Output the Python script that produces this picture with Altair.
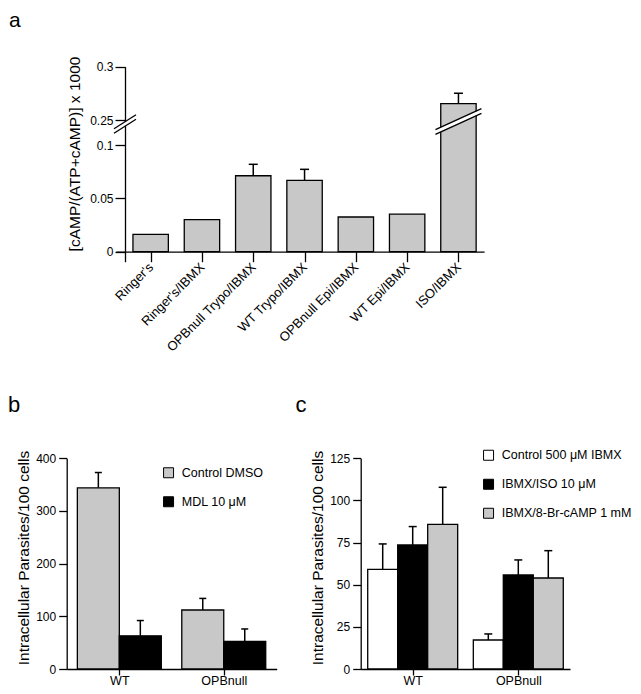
import json
import altair as alt
import pandas as pd

# ---------------- data ----------------
a_labels = ["Ringer's", "Ringer's/IBMX", "OPBnull Trypo/IBMX", "WT Trypo/IBMX",
            "OPBnull Epi/IBMX", "WT Epi/IBMX", "ISO/IBMX"]
a_values = [0.0163, 0.0300, 0.0712, 0.0669, 0.0325, 0.0353, 0.2653]
a_errors = [None, None, 0.0107, 0.0103, None, None, 0.0098]
a_ytick_values = [0, 0.05, 0.1, 0.25, 0.3]
a_ytick_labels = ["0", "0.05", "0.1", "0.25", "0.3"]

b_groups = ["WT", "OPBnull"]
b_series = ["Control DMSO", "MDL 10 μM"]
b_control = [344, 112]
b_control_err = [29, 22]
b_mdl = [63, 52.5]
b_mdl_err = [29, 23.5]
b_yticks = [0, 100, 200, 300, 400]

c_groups = ["WT", "OPBnull"]
c_series = ["Control 500 μM IBMX", "IBMX/ISO 10 μM", "IBMX/8-Br-cAMP 1 mM"]
c_control = [59.1, 17.2]
c_control_err = [15.1, 3.6]
c_iso = [73.6, 55.8]
c_iso_err = [10.9, 8.9]
c_br = [85.8, 54.0]
c_br_err = [22.0, 16.2]
c_yticks = [0, 25, 50, 75, 100, 125]

panel_letters = ["a", "b", "c"]

# ---------------- style / layout ----------------
FONT = "Liberation Sans"
GRAY = "#c8c8c8"
W, H = 625, 678

BRK_LO, BRK_HI, GAP = 0.1, 0.25, 0.0234


def disp(v):
    return round(v if v <= BRK_LO else v - BRK_HI + BRK_LO + GAP, 6)


common_axis = dict(domainColor="black", tickColor="black", labelColor="black",
                   titleColor="black", domainWidth=1.3, tickWidth=1.3,
                   labelFont=FONT, titleFont=FONT, grid=False, labelOverlap=False,
                   labelFlush=False, titleFontWeight="normal")

# ---------- panel a ----------
A_AX_X, A_UNIT, A_X_LEFT, A_HALF = 117.0, 51.3, -0.18, 0.345
A_ZERO_Y, A_PPU, A_Y_LOW = 243.7, 1067.0, -0.0094
A_Y_TOP = disp(0.3)
a_xscale = alt.Scale(domain=[A_X_LEFT, 7], nice=False, zero=False,
                     range=[A_AX_X + A_X_LEFT * A_UNIT, A_AX_X + 7 * A_UNIT])
a_yscale = alt.Scale(domain=[A_Y_LOW, A_Y_TOP], nice=False, zero=False,
                     range=[A_ZERO_Y - A_Y_LOW * A_PPU, A_ZERO_Y - A_Y_TOP * A_PPU])
a_disp_ticks = [disp(v) for v in a_ytick_values]
a_xaxis = alt.Axis(orient="bottom", offset=A_ZERO_Y - H,
                   values=[i + 0.5 for i in range(len(a_labels))],
                   labelExpr=f"{json.dumps(a_labels, ensure_ascii=False)}[floor(datum.value)]",
                   tickSize=10, labelAngle=315, labelAlign="right", labelBaseline="middle",
                   labelPadding=3, labelFontSize=13, title=None, **common_axis)
a_yaxis = alt.Axis(orient="left", offset=-A_AX_X, values=a_disp_ticks,
                   labelExpr=f"{json.dumps(a_ytick_labels)}[indexof({json.dumps(a_disp_ticks)}, datum.value)]",
                   tickSize=10, labelPadding=2, labelFontSize=12,
                   title="[cAMP/(ATP+cAMP)] x 1000", titleAngle=270, titleX=-46, titleY=145.5,
                   titleAlign="center", titleBaseline="alphabetic", titleFontSize=15.5,
                   **common_axis)

a_df = pd.DataFrame({"label": a_labels, "value": a_values, "err": a_errors,
                     "idx": list(range(len(a_labels)))})
disp_expr = "(v <= {lo} ? v : v - {hi} + {lo} + {gap})"
a_base = alt.Chart(a_df).transform_calculate(
    xc="datum.idx + 0.5",
    x0=f"datum.idx + 0.5 - {A_HALF}",
    x1=f"datum.idx + 0.5 + {A_HALF}",
    yd=disp_expr.format(lo=BRK_LO, hi=BRK_HI, gap=GAP).replace("v", "datum.value"),
    ed=disp_expr.format(lo=BRK_LO, hi=BRK_HI, gap=GAP).replace("v", "(datum.value + datum.err)"),
    c0=f"datum.idx + 0.5 - {4.5 / A_UNIT}",
    c1=f"datum.idx + 0.5 + {4.5 / A_UNIT}",
)
a_bars = a_base.mark_bar(fill=GRAY, stroke="black", strokeWidth=1.3).encode(
    x=alt.X("x0:Q", scale=a_xscale, axis=a_xaxis),
    x2="x1:Q",
    y=alt.Y("yd:Q", scale=a_yscale, axis=a_yaxis),
    y2=alt.datum(0),
)
a_err = a_base.transform_filter("isValid(datum.err)").mark_rule(
    color="black", strokeWidth=1.5).encode(
    x=alt.X("xc:Q", scale=a_xscale, axis=a_xaxis),
    y=alt.Y("yd:Q", scale=a_yscale, axis=a_yaxis),
    y2="ed:Q",
)
a_cap = a_base.transform_filter("isValid(datum.err)").mark_rule(
    color="black", strokeWidth=1.5).encode(
    x=alt.X("c0:Q", scale=a_xscale, axis=a_xaxis),
    x2="c1:Q",
    y=alt.Y("ed:Q", scale=a_yscale, axis=a_yaxis),
)

# break marks (style geometry, in panel-a data units)
def slash_rows(cx, cy, dx_px, dy_px, sep_px):
    dx, dy, sep = dx_px / A_UNIT, dy_px / A_PPU, sep_px / A_PPU
    rows = [dict(x=cx - dx, x2=cx + dx, y=cy - dy, y2=cy + dy, kind="white")]
    for s in (-sep, sep):
        rows.append(dict(x=cx - dx, x2=cx + dx, y=cy - dy + s, y2=cy + dy + s, kind="black"))
    return rows

brk_rows = slash_rows(0.0, (A_ZERO_Y - 116.0) / A_PPU, 11, 7, 2.3) + \
    slash_rows(6.5, (A_ZERO_Y - 113.5) / A_PPU, 23, 10.5, 2.3)
brk_df = pd.DataFrame(brk_rows)
brk_white = alt.Chart(brk_df).transform_filter("datum.kind == 'white'").mark_rule(
    color="white", strokeWidth=4).encode(
    x=alt.X("x:Q", scale=a_xscale, axis=a_xaxis), x2="x2:Q",
    y=alt.Y("y:Q", scale=a_yscale, axis=a_yaxis), y2="y2:Q")
brk_black = alt.Chart(brk_df).transform_filter("datum.kind == 'black'").mark_rule(
    color="black", strokeWidth=1.3).encode(
    x=alt.X("x:Q", scale=a_xscale, axis=a_xaxis), x2="x2:Q",
    y=alt.Y("y:Q", scale=a_yscale, axis=a_yaxis), y2="y2:Q")

panel_a = alt.layer(a_bars, a_err, a_cap, brk_white, brk_black)


# ---------- grouped panels b and c ----------
def grouped_panel(groups, series, vals, errs, colors, yticks, xrange_px, xdom, bw,
                  zero_y, top_y, cap_px, legend_xy):
    rows = []
    for s, (vs, es) in enumerate(zip(vals, errs)):
        for g, (v, e) in enumerate(zip(vs, es)):
            rows.append(dict(group=groups[g], series=series[s], g=g, s=s, value=v, err=e))
    df = pd.DataFrame(rows)
    n = len(series)
    unit = (xrange_px[1] - xrange_px[0]) / (xdom[1] - xdom[0])
    xscale = alt.Scale(domain=xdom, range=list(xrange_px), nice=False, zero=False)
    yscale = alt.Scale(domain=[yticks[0], yticks[-1]], range=[zero_y, top_y], nice=False)
    xaxis = alt.Axis(orient="bottom", offset=zero_y - H, values=list(range(len(groups))),
                     labelExpr=f"{json.dumps(groups)}[datum.value]", tickSize=6,
                     labelPadding=-1, labelFontSize=12.5, labelAngle=0, title=None,
                     **common_axis)
    yaxis = alt.Axis(orient="left", offset=-xrange_px[0], values=yticks, format="d",
                     tickSize=8, labelPadding=3, labelFontSize=12,
                     title="Intracellular Parasites/100 cells", titleAngle=270,
                     titleX=-38.2, titleY=549.5, titleAlign="center",
                     titleBaseline="alphabetic", titleFontSize=15.5, **common_axis)
    base = alt.Chart(df).transform_calculate(
        x0=f"datum.g + (datum.s - {n / 2}) * {bw}",
        x1=f"datum.g + (datum.s - {n / 2} + 1) * {bw}",
        xc=f"datum.g + (datum.s - {n / 2} + 0.5) * {bw}",
        c0=f"datum.g + (datum.s - {n / 2} + 0.5) * {bw} - {cap_px / 2 / unit}",
        c1=f"datum.g + (datum.s - {n / 2} + 0.5) * {bw} + {cap_px / 2 / unit}",
        top="datum.value + datum.err",
    )
    legend = alt.Legend(title=None, orient="none", legendX=legend_xy[0], legendY=legend_xy[1],
                        symbolType="square", symbolSize=100, symbolStrokeColor="black",
                        symbolStrokeWidth=1, labelFont=FONT, labelFontSize=12.5,
                        labelColor="black", labelOffset=7, rowPadding=14, padding=0,
                        direction="vertical")
    bars = base.mark_bar(stroke="black", strokeWidth=1.3).encode(
        x=alt.X("x0:Q", scale=xscale, axis=xaxis),
        x2="x1:Q",
        y=alt.Y("value:Q", scale=yscale, axis=yaxis),
        y2=alt.datum(0),
        fill=alt.Fill("series:N", scale=alt.Scale(domain=series, range=colors), legend=legend),
    )
    err = base.mark_rule(color="black", strokeWidth=1.5).encode(
        x=alt.X("xc:Q", scale=xscale, axis=xaxis),
        y=alt.Y("value:Q", scale=yscale, axis=yaxis),
        y2="top:Q",
    )
    cap = base.mark_rule(color="black", strokeWidth=1.5).encode(
        x=alt.X("c0:Q", scale=xscale, axis=xaxis),
        x2="c1:Q",
        y=alt.Y("top:Q", scale=yscale, axis=yaxis),
    )
    return alt.layer(err, cap, bars)


panel_b = grouped_panel(b_groups, b_series, [b_control, b_mdl], [b_control_err, b_mdl_err],
                        [GRAY, "black"], b_yticks, (58.7, 268.7), [-0.504, 1.507], 0.402,
                        661.0, 450.3, 7, (154.3, 458.5))
panel_c = grouped_panel(c_groups, c_series, [c_control, c_iso, c_br],
                        [c_control_err, c_iso_err, c_br_err],
                        ["white", "black", GRAY], c_yticks, (352.7, 562.0),
                        [-0.4924, 1.4896], 0.284, 661.0, 450.3, 8, (474.3, 441))


def letter(t, x, y, size=22):
    return alt.Chart(pd.DataFrame({"t": [t]})).mark_text(
        font=FONT, fontSize=size, align="left", baseline="alphabetic", color="black").encode(
        text="t:N", x=alt.value(x), y=alt.value(y))


letters = [letter(panel_letters[0], 1, 19, 21), letter(panel_letters[1], 0, 404),
           letter(panel_letters[2], 287.5, 404)]

chart = alt.layer(panel_a, panel_b, panel_c, *letters).resolve_scale(
    x="independent", y="independent", fill="independent"
).properties(
    width=W, height=H, padding=0, autosize=alt.AutoSizeParams(type="none")
).configure_view(stroke=None)

chart.save("out.html", embed_options={"renderer": "svg", "actions": False})
